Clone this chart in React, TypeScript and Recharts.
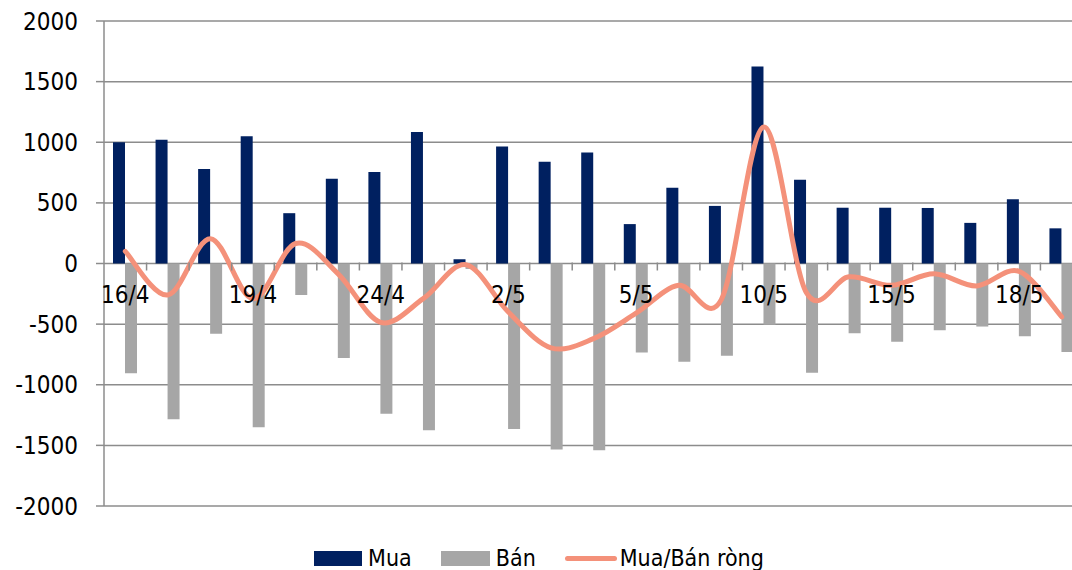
import { ComposedChart, Bar, Line, XAxis, YAxis, CartesianGrid, Legend } from 'recharts';

const categories = ['16/4', '17/4', '18/4', '19/4', '20/4', '23/4', '24/4', '25/4', '26/4', '2/5', '3/5', '4/5', '5/5', '8/5', '9/5', '10/5', '11/5', '14/5', '15/5', '16/5', '17/5', '18/5', '21/5'];
const mua = [1000, 1020, 780, 1050, 415, 700, 755, 1085, 35, 965, 840, 915, 325, 625, 475, 1625, 690, 460, 460, 458, 335, 530, 290];
const ban = [-905, -1285, -580, -1350, -260, -780, -1240, -1375, -45, -1365, -1535, -1540, -735, -810, -760, -505, -900, -575, -645, -550, -520, -600, -730];
const rong = [100, -260, 205, -290, 165, -85, -485, -290, -10, -400, -695, -620, -410, -180, -300, 1125, -240, -110, -180, -85, -185, -65, -440];
const yTicks = [-2000, -1500, -1000, -500, 0, 500, 1000, 1500, 2000];

const data = categories.map((d, i) => ({ d, mua: mua[i], ban: ban[i], rong: rong[i] }));

const FONT = '"DejaVu Sans Condensed", "DejaVu Sans", sans-serif';
const AXIS = '#8c8c8c';
const Y_MIN = -2000;
const Y_MAX = 2000;
const TOP = 21;
const BOTTOM = 66;
const LEFT = 104;
const W = 1083;
const H = 570;
const PLOT_W = W - LEFT;
const PLOT_H = H - TOP - BOTTOM;
// legend + x axis strip that recharts reserves at the bottom
const RESERVED = 32;

// Excel-like smoothed line (bezier with 1/6 neighbour tangents)
function excelCurve(context: any) {
  let pts: number[][] = [];
  return {
    areaStart() {},
    areaEnd() {},
    lineStart() {
      pts = [];
    },
    lineEnd() {
      const n = pts.length;
      if (!n) return;
      context.moveTo(pts[0][0], pts[0][1]);
      for (let i = 0; i < n - 1; i++) {
        const p0 = pts[i - 1] || pts[i];
        const p1 = pts[i];
        const p2 = pts[i + 1];
        const p3 = pts[i + 2] || pts[i + 1];
        context.bezierCurveTo(
          p1[0] + (p2[0] - p0[0]) / 6,
          p1[1] + (p2[1] - p0[1]) / 6,
          p2[0] - (p3[0] - p1[0]) / 6,
          p2[1] - (p3[1] - p1[1]) / 6,
          p2[0],
          p2[1],
        );
      }
    },
    point(x: number, y: number) {
      pts.push([+x, +y]);
    },
  };
}

function DateTick(props: any) {
  const { x, payload, index } = props;
  const band = PLOT_W / categories.length;
  const zeroY = TOP + (PLOT_H * Y_MAX) / (Y_MAX - Y_MIN);
  return (
    <g>
      <line x1={x + band / 2} x2={x + band / 2} y1={zeroY} y2={zeroY + 8} stroke={AXIS} strokeWidth={1.5} />
      {index % 3 === 0 && (
        <text x={x} y={zeroY + 40} textAnchor="middle" fontSize={24} fontFamily={FONT} fill="#000">
          {payload.value}
        </text>
      )}
    </g>
  );
}

function LegendBox() {
  const item = { display: 'flex', alignItems: 'center', marginRight: 29 } as const;
  const txt = { marginLeft: 6, fontSize: 23, fontFamily: FONT, color: '#000' } as const;
  return (
    <div style={{ display: 'flex', justifyContent: 'center', alignItems: 'center', height: 30, lineHeight: '30px' }}>
      <div style={item}>
        <span style={{ width: 48, height: 15, background: '#002060', display: 'inline-block' }} />
        <span style={txt}>Mua</span>
      </div>
      <div style={item}>
        <span style={{ width: 49, height: 15, background: '#a6a6a6', display: 'inline-block' }} />
        <span style={txt}>Bán</span>
      </div>
      <div style={{ ...item, marginRight: 0 }}>
        <span style={{ width: 52, height: 5, borderRadius: 3, background: '#f4917a', display: 'inline-block' }} />
        <span style={{ ...txt, marginLeft: 3 }}>Mua/Bán ròng</span>
      </div>
    </div>
  );
}

export default function App() {
  return (
    <div style={{ position: 'absolute', left: 0, top: 0, width: 1072, height: 570, overflow: 'hidden', background: '#fff' }}>
      <ComposedChart
        width={W}
        height={H}
        data={data}
        margin={{ top: TOP, right: 0, bottom: BOTTOM - 1 - RESERVED, left: 0 }}
        barGap={0}
      >
        <CartesianGrid vertical={false} stroke={AXIS} strokeWidth={1.5} />
        <YAxis
          domain={[Y_MIN, Y_MAX]}
          ticks={yTicks}
          width={LEFT}
          stroke={AXIS}
          strokeWidth={1.5}
          tickSize={8}
          tickMargin={18}
          tick={{ fontSize: 24, fill: '#000', fontFamily: FONT }}
        />
        <Bar dataKey="mua" name="Mua" fill="#002060" barSize={12} isAnimationActive={false} />
        <Bar dataKey="ban" name="Bán" fill="#a6a6a6" barSize={12} isAnimationActive={false} />
        <Line
          dataKey="rong"
          name="Mua/Bán ròng"
          type={excelCurve as any}
          stroke="#f4917a"
          strokeWidth={5}
          strokeLinecap="round"
          dot={false}
          isAnimationActive={false}
        />
        <XAxis dataKey="d" height={1} axisLine={false} tickLine={false} interval={0} tick={<DateTick />} />
        <Legend
          layout="vertical"
          align="center"
          verticalAlign="bottom"
          content={<LegendBox />}
          wrapperStyle={{ left: 0, top: 543, width: 1078, bottom: 'auto' }}
        />
      </ComposedChart>
    </div>
  );
}
